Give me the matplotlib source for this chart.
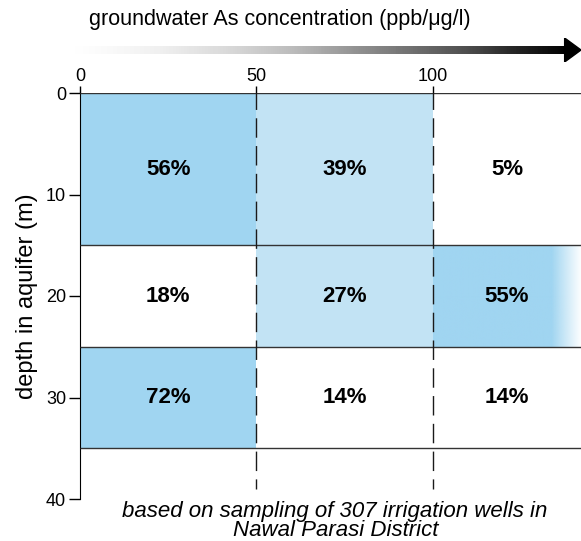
import numpy as np
import matplotlib
matplotlib.use("Agg")
import matplotlib.pyplot as plt
from matplotlib.patches import Polygon

plt.rcParams['font.family'] = ['Liberation Sans', 'DejaVu Sans']

# concentration bins (ppb) and depth bins (m)
conc_edges = [0, 50, 100, 142]
depth_edges = [0, 15, 25, 35]
conc_ticks = [0, 50, 100]
depth_ticks = [0, 10, 20, 30, 40]
# share of wells per depth band / concentration class
percent = [[56, 39, 5],
           [18, 27, 55],
           [72, 14, 14]]
# 0 = none, 1 = light, 2 = strong
shade = [[2, 1, 0],
         [0, 1, 2],
         [2, 0, 0]]
fade_start = 133.5  # where the last strong cell fades out

colors = {0: None, 1: '#c2e3f4', 2: '#a0d5f1'}

fig = plt.figure(figsize=(5.81, 5.41), dpi=100)
ax = fig.add_axes([80/581, 1 - 499/541, 1 - 80/581, (499 - 93)/541])

for r in range(len(percent)):
    y0, y1 = depth_edges[r], depth_edges[r + 1]
    for c in range(len(percent[r])):
        x0, x1 = conc_edges[c], conc_edges[c + 1]
        col = colors[shade[r][c]]
        if col is not None:
            if c == len(percent[r]) - 1:
                # fading edge on the open-ended class
                xs = np.linspace(x0, x1, 300)
                rgba = np.zeros((1, 300, 4))
                rgba[..., :3] = matplotlib.colors.to_rgb(col)
                alpha = np.clip((x1 - xs) / (x1 - fade_start), 0, 1)
                rgba[0, :, 3] = alpha
                ax.imshow(rgba, extent=(x0, x1, y1, y0), aspect='auto', zorder=1)
            else:
                ax.fill_between([x0, x1], y0, y1, color=col, lw=0, zorder=1)
        ax.text((x0 + x1) / 2, (y0 + y1) / 2, f'{percent[r][c]}%', ha='center',
                va='center', fontsize=16, fontweight='bold', zorder=4)

ax.hlines(depth_edges, conc_edges[0], conc_edges[-1], color='#333333', lw=1, zorder=3)
for xv in conc_ticks[1:]:
    ax.plot([xv, xv], [-0.3, 39], color='#1a1a1a', lw=1, dashes=(14, 6), zorder=3)

ax.set_xlim(conc_edges[0], conc_edges[-1])
ax.set_ylim(40, 0)
ax.set_xticks(conc_ticks)
ax.set_yticks(depth_ticks)
ax.xaxis.tick_top()
ax.tick_params(axis='x', direction='out', length=5, width=1, labelsize=13, pad=1)
ax.tick_params(axis='y', direction='out', length=8, width=1, labelsize=13, pad=2)
for s in ['top', 'right', 'bottom']:
    ax.spines[s].set_visible(False)
ax.spines['left'].set_bounds(0, 40)
ax.set_ylabel('depth in aquifer (m)', fontsize=17, labelpad=6)
ax.set_facecolor('none')

# title and gradient arrow
fig.text(280/581, 1 - 20/541, 'groundwater As concentration (ppb/\u03bcg/l)',
         ha='center', va='center', fontsize=15.5)
arr = fig.add_axes([70/581, 1 - 62/541, 511/581, 24/541])
arr.set_xlim(0, 1)
arr.set_ylim(0, 1)
arr.axis('off')
grad = np.linspace(0, 1, 256)[None, :] ** 1.2
arr.imshow(grad, cmap='Greys', extent=(0, 0.975, 0.35, 0.65), aspect='auto', vmin=0, vmax=1)
arr.add_patch(Polygon([(0.968, 0.0), (1.0, 0.5), (0.968, 1.0)], closed=True, color='black'))

fig.text(335/581, 1 - 511/541, 'based on sampling of 307 irrigation wells in',
         ha='center', va='center', fontsize=16, style='italic')
fig.text(336/581, 1 - 531/541, 'Nawal Parasi District',
         ha='center', va='center', fontsize=16, style='italic')

fig.savefig('out.png', dpi=100)
